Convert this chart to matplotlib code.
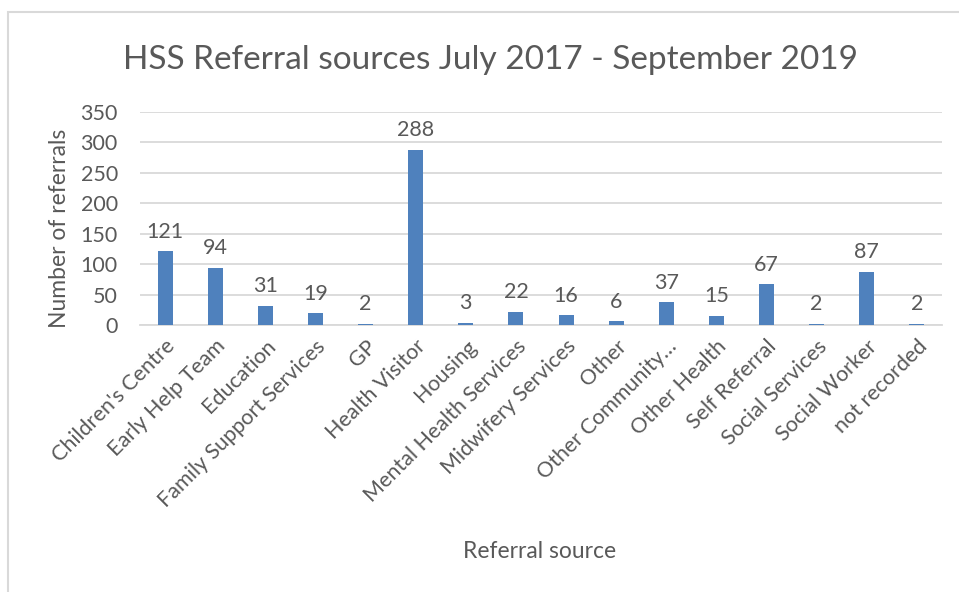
import matplotlib
matplotlib.use("Agg")
import matplotlib.pyplot as plt
from matplotlib.patches import Rectangle

categories = [
    "Children's Centre", "Early Help Team", "Education", "Family Support Services",
    "GP", "Health Visitor", "Housing", "Mental Health Services",
    "Midwifery Services", "Other", "Other Community\u2026", "Other Health",
    "Self Referral", "Social Services", "Social Worker", "not recorded",
]
referrals = [121, 94, 31, 19, 2, 288, 3, 22, 16, 6, 37, 15, 67, 2, 87, 2]
y_ticks = [0, 50, 100, 150, 200, 250, 300, 350]

TEXT = "#595959"
GRID = "#D9D9D9"
BAR = "#4F81BD"

plt.rcParams["font.family"] = ["Lato", "DejaVu Sans"]

fig = plt.figure(figsize=(9.59, 5.92), dpi=100)
W, H = 959, 592

# outer chart frame
fig.patches.append(Rectangle((8 / W, -0.1), 1.2, (H - 12) / H + 0.1,
                             transform=fig.transFigure, fill=False,
                             edgecolor=GRID, linewidth=1.5))

ax = fig.add_axes([140 / W, 1 - 325 / H, (942 - 140) / W, (325 - 112) / H])
x = list(range(len(categories)))
ax.bar(x, referrals, width=0.3, color=BAR, zorder=3)
ax.set_xlim(-0.5, len(categories) - 0.5)
ax.set_ylim(0, 350)
ax.set_yticks(y_ticks)
ax.grid(axis="y", color=GRID, linewidth=1.3, zorder=0)
for s in ["top", "right", "left"]:
    ax.spines[s].set_visible(False)
ax.spines["bottom"].set_color(GRID)
ax.spines["bottom"].set_linewidth(1.3)
ax.tick_params(axis="both", length=0, colors=TEXT, labelsize=15.5)
ax.tick_params(axis="y", pad=16)
ax.tick_params(axis="x", pad=8)
ax.set_xticks(x)
ax.set_xticklabels(categories, rotation=45, ha="right", va="top",
                   rotation_mode="anchor", color=TEXT, fontsize=15.5)

for xi, v in zip(x, referrals):
    ax.annotate(str(v), (xi, v), xytext=(0, 7), textcoords="offset points",
                ha="center", va="bottom", color=TEXT, fontsize=15.5)

fig.text(60 / W, 1 - 228 / H, "Number of referrals", ha="center", va="center",
         rotation=90, color=TEXT, fontsize=16.5)
fig.text(540 / W, 1 - 552 / H, "Referral source", ha="center", va="center",
         color=TEXT, fontsize=16.5)
fig.text(490 / W, 1 - 60 / H, "HSS Referral sources July 2017 - September 2019",
         ha="center", va="center", color=TEXT, fontsize=24)

fig.savefig("out.png", dpi=100)
